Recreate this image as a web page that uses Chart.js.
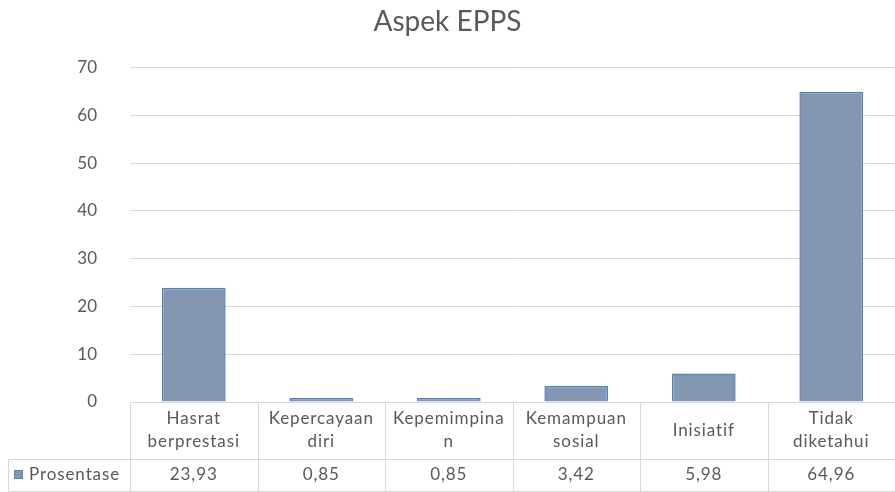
<!DOCTYPE html>
<html>
<head>
<meta charset="utf-8">
<script src="https://cdn.jsdelivr.net/npm/chart.js@4/dist/chart.umd.min.js"></script>
<style>
  html, body { margin: 0; padding: 0; background: #ffffff; }
  canvas { display: block; }
</style>
</head>
<body>
<canvas id="chart" width="895" height="492"></canvas>
<script>
// Category names, split into the lines shown in the data table
const categories = [
  ["Hasrat", "berprestasi"],
  ["Kepercayaan", "diri"],
  ["Kepemimpina", "n"],
  ["Kemampuan", "sosial"],
  ["Inisiatif"],
  ["Tidak", "diketahui"]
];
const seriesName = "Prosentase";
const values = [23.93, 0.85, 0.85, 3.42, 5.98, 64.96];
const yTicks = [0, 10, 20, 30, 40, 50, 60, 70];

const TEXT = "#595959";
const GRID = "#d9d9d9";
const FILL = "#8497b0";
const EDGE = "#4f81bd";
const FONT = "Lato, 'Open Sans', sans-serif";

// Values shown in the table use a decimal comma
const fmt = v => v.toFixed(2).replace(".", ",");

// Draws the data table below the plot: category row, then the value row with its legend key
const dataTable = {
  id: "dataTable",
  afterDraw(chart) {
    const { ctx, chartArea, scales } = chart;
    const xs = scales.x;
    const n = categories.length;
    const step = xs.getPixelForValue(1) - xs.getPixelForValue(0);
    const edges = [];
    for (let i = 0; i <= n; i++) edges.push(xs.getPixelForValue(i) - step / 2);

    const top = chartArea.bottom;
    const rowSplit = top + 57;
    const bottom = top + 89;
    const keyLeft = 8;

    ctx.save();
    ctx.strokeStyle = GRID;
    ctx.lineWidth = 1;
    const line = (x1, y1, x2, y2) => {
      ctx.beginPath();
      ctx.moveTo(Math.round(x1) + 0.5, Math.round(y1) + 0.5);
      ctx.lineTo(Math.round(x2) + 0.5, Math.round(y2) + 0.5);
      ctx.stroke();
    };
    line(keyLeft, rowSplit, edges[n], rowSplit);
    line(keyLeft, bottom, edges[n], bottom);
    line(keyLeft, rowSplit, keyLeft, bottom);
    for (let i = 0; i < n; i++) line(edges[i], top, edges[i], bottom);

    ctx.fillStyle = TEXT;
    ctx.font = "17px " + FONT;
    ctx.textAlign = "center";
    ctx.textBaseline = "middle";
    if ("letterSpacing" in ctx) ctx.letterSpacing = "0.9px";
    const headMid = (top + rowSplit) / 2;
    const lh = 23;
    categories.forEach((lines, i) => {
      const cx = xs.getPixelForValue(i);
      const y0 = headMid - (lines.length - 1) * lh / 2;
      lines.forEach((t, j) => ctx.fillText(t, cx, y0 + j * lh));
    });
    const valMid = (rowSplit + bottom) / 2;
    values.forEach((v, i) => ctx.fillText(fmt(v), xs.getPixelForValue(i), valMid));

    // legend key
    ctx.fillStyle = FILL;
    ctx.fillRect(14, valMid - 5, 9, 9);
    ctx.strokeStyle = EDGE;
    ctx.strokeRect(14.5, valMid - 4.5, 8, 8);
    ctx.fillStyle = TEXT;
    ctx.textAlign = "left";
    ctx.fillText(seriesName, 29, valMid);
    ctx.restore();
  }
};

new Chart(document.getElementById("chart"), {
  type: "bar",
  data: {
    labels: categories.map(c => c.join(" ")),
    datasets: [{
      label: seriesName,
      data: values,
      backgroundColor: FILL,
      borderColor: EDGE,
      borderWidth: 1.5,
      categoryPercentage: 1,
      barPercentage: 0.5
    }]
  },
  options: {
    responsive: false,
    devicePixelRatio: 1,
    animation: false,
    layout: { padding: { left: 0, right: 0, top: 0, bottom: 90 } },
    plugins: {
      legend: { display: false },
      tooltip: { enabled: false },
      title: {
        display: true,
        text: "Aspek EPPS",
        color: TEXT,
        font: { family: FONT, size: 28, weight: "normal" },
        padding: { top: 5, bottom: 29 }
      }
    },
    scales: {
      x: { display: false },
      y: {
        min: 0,
        max: 70,
        afterBuildTicks: s => { s.ticks = yTicks.map(v => ({ value: v })); },
        afterFit: s => { s.width = 130; },
        border: { display: false },
        grid: { color: GRID, lineWidth: 1, drawTicks: false },
        ticks: {
          color: TEXT,
          padding: 33,
          font: { family: FONT, size: 17 }
        }
      }
    }
  },
  plugins: [dataTable]
});
</script>
</body>
</html>
